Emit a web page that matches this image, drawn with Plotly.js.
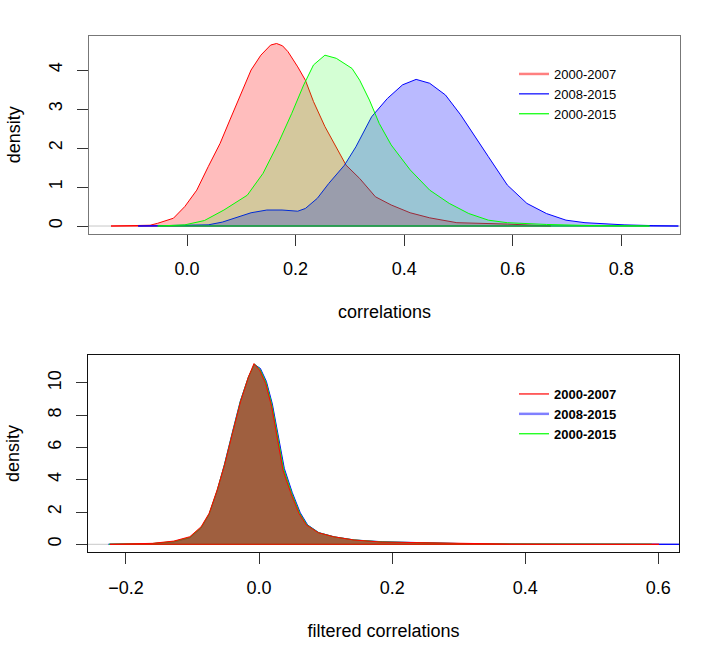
<!DOCTYPE html>
<html>
<head>
<meta charset="utf-8">
<script src="https://cdn.plot.ly/plotly-3.0.1.min.js"></script>
<style>html,body{margin:0;padding:0;background:#fff;}#chart{width:726px;height:666px;}</style>
</head>
<body>
<div id="chart"></div>
<script>
// ---- Data ----
const seriesNames = ["2000-2007", "2008-2015", "2000-2015"];

// Top panel: density of correlations
const topRedX   = [-0.14,-0.09,-0.068,-0.054,-0.025,-0.004,0.018,0.039,0.061,0.079,0.097,0.118,0.136,0.154,0.165,0.176,0.186,0.204,0.218,0.233,0.254,0.275,0.293,0.318,0.347,0.376,0.411,0.447,0.497,0.59,0.665,0.67];
const topRedY   = [0,0.005,0.02,0.07,0.2,0.5,0.92,1.52,2.12,2.72,3.32,4.0,4.38,4.64,4.68,4.62,4.47,4.08,3.74,3.19,2.55,2.03,1.56,1.22,0.75,0.54,0.34,0.21,0.085,0.05,0.02,0];
const topBlueX  = [-0.09,-0.05,0.0,0.039,0.065,0.089,0.118,0.147,0.175,0.204,0.218,0.24,0.261,0.29,0.311,0.34,0.369,0.397,0.422,0.447,0.476,0.504,0.526,0.555,0.59,0.626,0.662,0.698,0.733,0.805,0.86,0.905];
const topBlueY  = [0,0.005,0.015,0.03,0.1,0.2,0.34,0.41,0.41,0.38,0.45,0.71,1.09,1.56,2.03,2.8,3.27,3.62,3.76,3.66,3.36,2.85,2.38,1.78,1.05,0.58,0.32,0.15,0.085,0.03,0.01,0];
const topGreenX = [-0.054,-0.004,0.032,0.068,0.111,0.14,0.168,0.193,0.215,0.233,0.254,0.275,0.304,0.318,0.336,0.354,0.376,0.411,0.447,0.483,0.519,0.555,0.59,0.662,0.75,0.852];
const topGreenY = [0,0.03,0.14,0.41,0.79,1.35,2.12,2.89,3.62,4.13,4.38,4.3,4.04,3.74,3.23,2.63,2.08,1.44,0.92,0.58,0.32,0.15,0.085,0.04,0.01,0];
const topXTicks = [0.0,0.2,0.4,0.6,0.8];
const topYTicks = [0,1,2,3,4];

// Bottom panel: density of filtered correlations
const botRedX   = [-0.224,-0.16,-0.128,-0.104,-0.087,-0.075,-0.063,-0.052,-0.04,-0.028,-0.016,-0.0076,0.001,0.01,0.019,0.028,0.036,0.048,0.06,0.071,0.089,0.112,0.142,0.183,0.23,0.282,0.317,0.376,0.45,0.601];
const botRedY   = [0,0.06,0.2,0.47,1.09,1.92,3.36,4.9,6.87,8.82,10.37,11.2,10.78,9.96,8.52,6.45,4.6,3.15,1.92,1.2,0.72,0.47,0.27,0.14,0.1,0.06,0.03,0.015,0.005,0];
const botBlueX  = [-0.226,-0.16,-0.128,-0.104,-0.087,-0.075,-0.063,-0.052,-0.04,-0.028,-0.016,-0.007,0.002,0.011,0.02,0.029,0.038,0.05,0.062,0.073,0.09,0.113,0.143,0.185,0.232,0.285,0.32,0.38,0.5,0.634];
const botBlueY  = [0,0.04,0.15,0.4,1.0,1.85,3.3,4.95,6.95,8.9,10.35,11.15,10.9,10.1,8.7,6.6,4.7,3.2,1.95,1.2,0.72,0.46,0.27,0.16,0.1,0.05,0.03,0.015,0.004,0];
const botGreenX = [-0.225,-0.16,-0.128,-0.104,-0.087,-0.075,-0.063,-0.052,-0.04,-0.028,-0.016,-0.007,0.0015,0.0105,0.0195,0.0285,0.037,0.049,0.061,0.072,0.0895,0.1125,0.1425,0.184,0.231,0.283,0.318,0.378,0.47,0.59];
const botGreenY = [0,0.05,0.17,0.43,1.04,1.88,3.33,4.92,6.9,8.86,10.36,11.17,10.84,10.03,8.6,6.5,4.65,3.17,1.93,1.2,0.72,0.46,0.27,0.15,0.1,0.055,0.03,0.015,0.005,0];
const botXTicks = [-0.2,0.0,0.2,0.4,0.6];
const botYTicks = [0,2,4,6,8,10];

// ---- Build traces ----
const FONT = "Liberation Sans, Arial, Helvetica, sans-serif";
function poly(xs, ys, line, fill, xa, ya) {
  return {
    x: xs.concat([xs[0]]), y: ys.concat([ys[0]]),
    type: "scatter", mode: "lines", fill: "toself", fillcolor: fill,
    line: {color: line, width: 1}, xaxis: xa, yaxis: ya,
    showlegend: false, hoverinfo: "skip"
  };
}
function legendItem(name, color, width, leg) {
  return {x: [null], y: [null], type: "scatter", mode: "lines", name: name,
          line: {color: color, width: width}, legend: leg, xaxis: "x", yaxis: "y"};
}

const traces = [
  poly(topRedX, topRedY, "#ff0000", "rgba(255,0,0,0.26)", "x", "y"),
  poly(topBlueX, topBlueY, "#0000ff", "rgba(0,0,255,0.27)", "x", "y"),
  poly(topGreenX, topGreenY, "#00ff00", "rgba(0,255,0,0.17)", "x", "y"),
  poly(botBlueX, botBlueY, "#0000ff", "rgba(0,0,255,0.5)", "x2", "y2"),
  poly(botGreenX, botGreenY, "#00ff00", "rgba(0,255,0,0.5)", "x2", "y2"),
  poly(botRedX, botRedY, "#ff0000", "rgba(255,0,0,0.5)", "x2", "y2"),
  legendItem(seriesNames[0], "#ff8080", 2.5, "legend"),
  legendItem(seriesNames[1], "#0000ff", 1.2, "legend"),
  legendItem(seriesNames[2], "#00ff00", 1.2, "legend"),
  legendItem(seriesNames[0], "#ff0000", 1.2, "legend2"),
  legendItem(seriesNames[1], "#8080ff", 2.5, "legend2"),
  legendItem(seriesNames[2], "#00ff00", 1.2, "legend2")
];

const W = 726, H = 666;
const axCommon = {
  showgrid: false, zeroline: false, showline: true, mirror: true,
  ticks: "outside", ticklen: 11, tickwidth: 1, tickcolor: "#333",
  tickfont: {family: FONT, size: 18, color: "#000"}, automargin: false, fixedrange: true
};

const layout = {
  width: W, height: H,
  margin: {l: 0, r: 0, t: 0, b: 0},
  paper_bgcolor: "#fff", plot_bgcolor: "#fff",
  font: {family: FONT, size: 18, color: "#000"},
  xaxis: Object.assign({}, axCommon, {
    domain: [89/W, 680/W], range: [-0.1805, 0.908], anchor: "y",
    tickvals: topXTicks, tickformat: ".1f", linecolor: "#777", ticklabelstandoff: 8,
    title: {text: "correlations", font: {family: FONT, size: 18}, standoff: 27}
  }),
  yaxis: Object.assign({}, axCommon, {
    domain: [1-233.7/H, 1-35.7/H], range: [-0.197, 4.88], anchor: "x",
    tickvals: topYTicks, tickangle: -90, linecolor: "#777", ticklabelstandoff: 8,
    title: {text: "density", font: {family: FONT, size: 18}, standoff: 20}
  }),
  xaxis2: Object.assign({}, axCommon, {
    domain: [88/W, 679/W], range: [-0.257, 0.631], anchor: "y2",
    tickvals: botXTicks, tickformat: ".1f", linecolor: "#111", ticklabelstandoff: 8,
    title: {text: "filtered correlations", font: {family: FONT, size: 18}, standoff: 27}
  }),
  yaxis2: Object.assign({}, axCommon, {
    domain: [1-552.3/H, 1-354.7/H], range: [-0.496, 11.75], anchor: "x2",
    tickvals: botYTicks, tickangle: -90, linecolor: "#111", ticklabelstandoff: 8,
    title: {text: "density", font: {family: FONT, size: 18}, standoff: 20}
  }),
  legend: {
    x: 514/W, y: 1-59/H, xanchor: "left", yanchor: "top",
    bgcolor: "rgba(0,0,0,0)", borderwidth: 0, tracegroupgap: 0,
    font: {family: FONT, size: 13, color: "#000"}
  },
  legend2: {
    x: 514/W, y: 1-379/H, xanchor: "left", yanchor: "top",
    bgcolor: "rgba(0,0,0,0)", borderwidth: 0, tracegroupgap: 0,
    font: {family: FONT, size: 13, color: "#000", weight: "bold"}
  },
  shapes: [
    {type: "line", xref: "x domain", yref: "y", x0: 0, x1: 1, y0: 0, y1: 0,
     line: {color: "#c8c8c8", width: 1}, layer: "below"},
    {type: "line", xref: "x2 domain", yref: "y2", x0: 0, x1: 1, y0: 0, y1: 0,
     line: {color: "#c8c8c8", width: 1}, layer: "below"}
  ],
  showlegend: true
};

Plotly.newPlot("chart", traces, layout, {staticPlot: true, displayModeBar: false});
</script>
</body>
</html>
